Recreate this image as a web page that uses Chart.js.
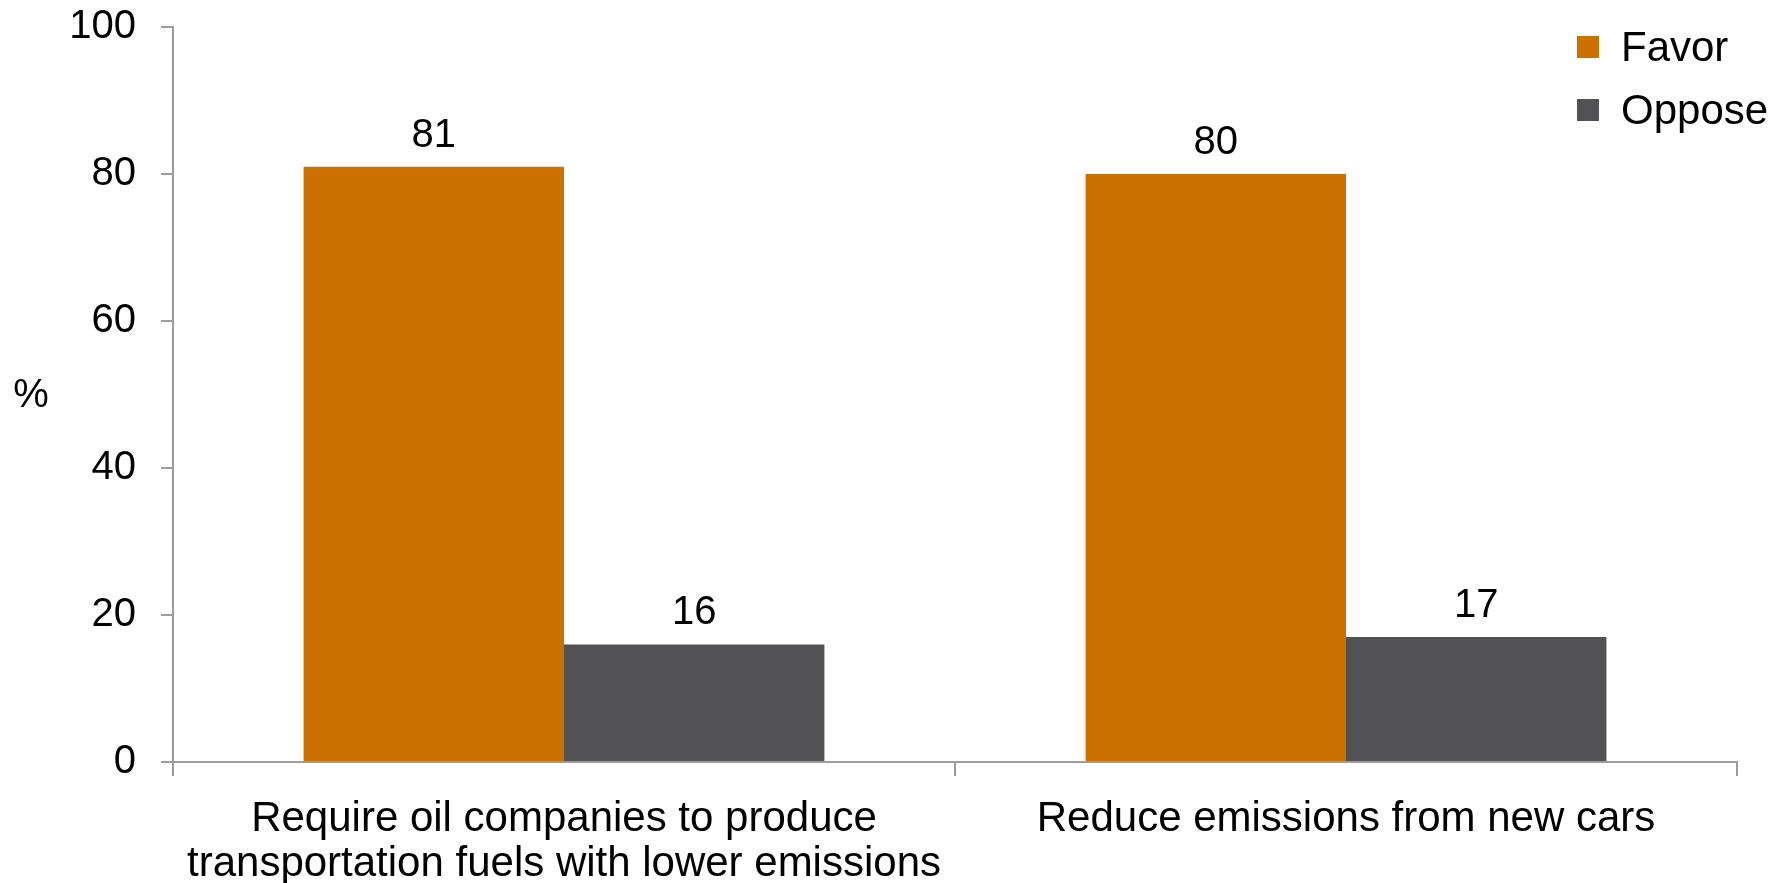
<!DOCTYPE html>
<html>
<head>
<meta charset="utf-8">
<script src="https://cdn.jsdelivr.net/npm/chart.js@4/dist/chart.umd.min.js"></script>
<style>
  html, body { margin: 0; padding: 0; background: #ffffff; }
  #wrap { width: 1784px; height: 883px; position: relative; }
</style>
</head>
<body>
<div id="wrap"><canvas id="c" width="1784" height="883"></canvas></div>
<script>
const categories = [
  ["Require oil companies to produce", "transportation fuels with lower emissions"],
  ["Reduce emissions from new cars"]
];
const seriesNames = ["Favor", "Oppose"];
const favorValues = [81, 80];
const opposeValues = [16, 17];
const seriesColors = ["#CC7000", "#525254"];
const axisTitle = "%";

const FONT = "'Liberation Sans', Arial, Helvetica, sans-serif";
const AXIS_COLOR = "#9c9c9c";

const valueLabels = {
  id: 'valueLabels',
  afterDatasetsDraw(chart) {
    const ctx = chart.ctx;
    ctx.save();
    ctx.font = "40px " + FONT;
    ctx.fillStyle = "#000";
    ctx.textAlign = "center";
    ctx.textBaseline = "alphabetic";
    chart.data.datasets.forEach((ds, i) => {
      const meta = chart.getDatasetMeta(i);
      meta.data.forEach((bar, j) => {
        ctx.fillText(String(ds.data[j]), bar.x, bar.y - 20);
      });
    });
    ctx.restore();
  }
};

const customLegend = {
  id: 'customLegend',
  afterDraw(chart) {
    const ctx = chart.ctx;
    ctx.save();
    ctx.font = "42px " + FONT;
    ctx.textAlign = "left";
    ctx.textBaseline = "alphabetic";
    chart.data.datasets.forEach((ds, i) => {
      const top = 36 + i * 63;
      ctx.fillStyle = ds.backgroundColor;
      ctx.fillRect(1577, top, 22, 22);
      ctx.fillStyle = "#000";
      ctx.fillText(ds.label, 1621, top + 25);
    });
    ctx.restore();
  }
};

const yTitle = {
  id: 'yTitle',
  afterDraw(chart) {
    const ctx = chart.ctx;
    const a = chart.chartArea;
    ctx.save();
    ctx.font = "40px " + FONT;
    ctx.fillStyle = "#000";
    ctx.textAlign = "center";
    ctx.textBaseline = "alphabetic";
    ctx.fillText(axisTitle, 31, (a.top + a.bottom) / 2 + 12);
    ctx.restore();
  }
};

new Chart(document.getElementById('c'), {
  type: 'bar',
  data: {
    labels: categories,
    datasets: [
      { label: seriesNames[0], data: favorValues, backgroundColor: seriesColors[0] },
      { label: seriesNames[1], data: opposeValues, backgroundColor: seriesColors[1] }
    ]
  },
  options: {
    responsive: false,
    animation: false,
    devicePixelRatio: 1,
    layout: { padding: { left: 69, right: 47, top: 27, bottom: 0 } },
    datasets: { bar: { categoryPercentage: 0.666, barPercentage: 1.0, borderWidth: 0 } },
    plugins: {
      legend: { display: false },
      tooltip: { enabled: false },
      title: { display: false }
    },
    scales: {
      x: {
        grid: {
          display: true, drawOnChartArea: false, drawTicks: true,
          tickLength: 14, color: AXIS_COLOR, lineWidth: 2, offset: true
        },
        border: { display: true, color: AXIS_COLOR, width: 2 },
        ticks: {
          color: "#000", font: { family: FONT, size: 42, lineHeight: 1.07 },
          padding: 21, maxRotation: 0, autoSkip: false
        },
        afterFit(s) { s.height = 121; s.paddingLeft = 0; s.paddingRight = 0; }
      },
      y: {
        min: 0, max: 100,
        grid: {
          display: true, drawOnChartArea: false, drawTicks: true,
          tickLength: 12, color: AXIS_COLOR, lineWidth: 2
        },
        border: { display: true, color: AXIS_COLOR, width: 2 },
        ticks: {
          stepSize: 20, color: "#000", padding: 25,
          font: { family: FONT, size: 40, lineHeight: 1.2 }
        },
        afterFit(s) { s.width = 104; s.paddingTop = 0; s.paddingBottom = 0; }
      }
    }
  },
  plugins: [valueLabels, customLegend, yTitle]
});
</script>
</body>
</html>
